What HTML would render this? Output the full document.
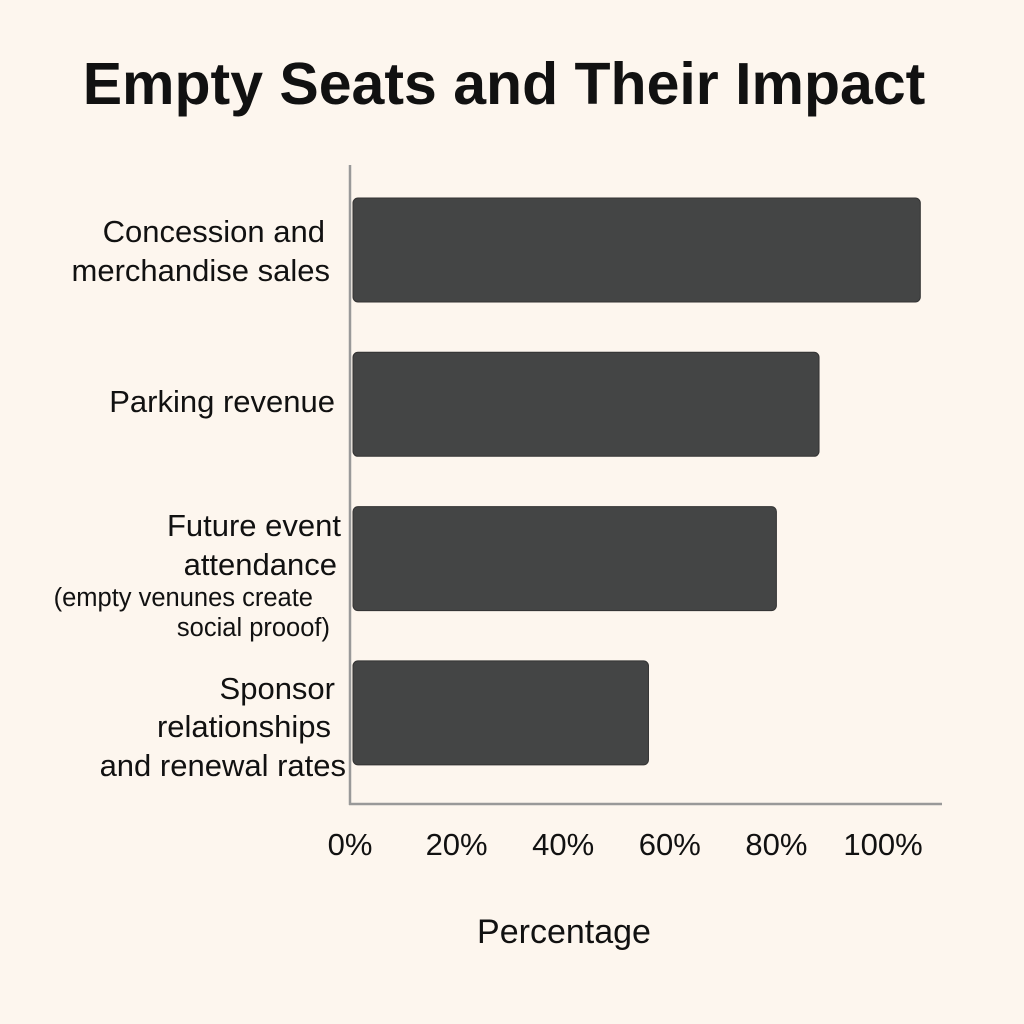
<!DOCTYPE html>
<html><head><meta charset="utf-8"><style>
html,body{margin:0;padding:0;background:#fdf6ee;}
svg{display:block;font-family:"Liberation Sans",sans-serif;}
</style></head><body>
<svg id="chart" width="1024" height="1024" viewBox="0 0 1024 1024">
<rect width="1024" height="1024" fill="#fdf6ee"/>
<text x="504" y="104" text-anchor="middle" font-size="59" font-weight="bold" fill="#111">Empty Seats and Their Impact</text>
<g id="bars"></g>
<g id="ylabels" font-size="31" fill="#111">
<text x="325" y="242" text-anchor="end">Concession and</text>
<text x="330" y="281" text-anchor="end">merchandise sales</text>
<text x="335" y="412" text-anchor="end">Parking revenue</text>
<text x="341" y="536" text-anchor="end">Future event</text>
<text x="337" y="575" text-anchor="end">attendance</text>
<text x="313" y="606" text-anchor="end" font-size="25.5">(empty venunes create</text>
<text x="330" y="636" text-anchor="end" font-size="25.5">social prooof)</text>
<text x="335" y="699" text-anchor="end">Sponsor</text>
<text x="331" y="737" text-anchor="end">relationships</text>
<text x="346" y="776" text-anchor="end">and renewal rates</text>
</g>
<line x1="350" y1="165" x2="350" y2="805" stroke="#999" stroke-width="2.5"/>
<line x1="349" y1="804" x2="942" y2="804" stroke="#999" stroke-width="2.5"/>
<g id="xticks"></g>
<text x="564" y="943" text-anchor="middle" font-size="34" fill="#111">Percentage</text>
</svg>
<script>
const categories = ["Concession and merchandise sales","Parking revenue","Future event attendance","Sponsor relationships and renewal rates"];
const values = [107, 88, 80, 56];
const tickValues = [0, 20, 40, 60, 80, 100];
const tickLabels = ["0%","20%","40%","60%","80%","100%"];
const NS = "http://www.w3.org/2000/svg";
function xScale(v){ return 350 + v * 5.33; }
function yBand(i){ return 198 + i * 154.3; }
const bh = 104;
const bars = document.getElementById("bars");
values.forEach((v,i)=>{
  const r = document.createElementNS(NS,"rect");
  r.setAttribute("x", 353);
  r.setAttribute("y", yBand(i));
  r.setAttribute("width", xScale(v) - 353);
  r.setAttribute("height", bh);
  r.setAttribute("rx", 5);
  r.setAttribute("fill", "#444545");
  r.setAttribute("stroke", "#333");
  r.setAttribute("stroke-width", "1");
  
  
  bars.appendChild(r);
});
const xt = document.getElementById("xticks");
tickValues.forEach((t,i)=>{
  const tx = document.createElementNS(NS,"text");
  tx.setAttribute("x", xScale(t));
  tx.setAttribute("y", 855);
  tx.setAttribute("text-anchor", "middle");
  tx.setAttribute("font-size", "31");
  tx.setAttribute("fill", "#111");
  tx.textContent = tickLabels[i];
  
  
  xt.appendChild(tx);
});
</script>
</body></html>
